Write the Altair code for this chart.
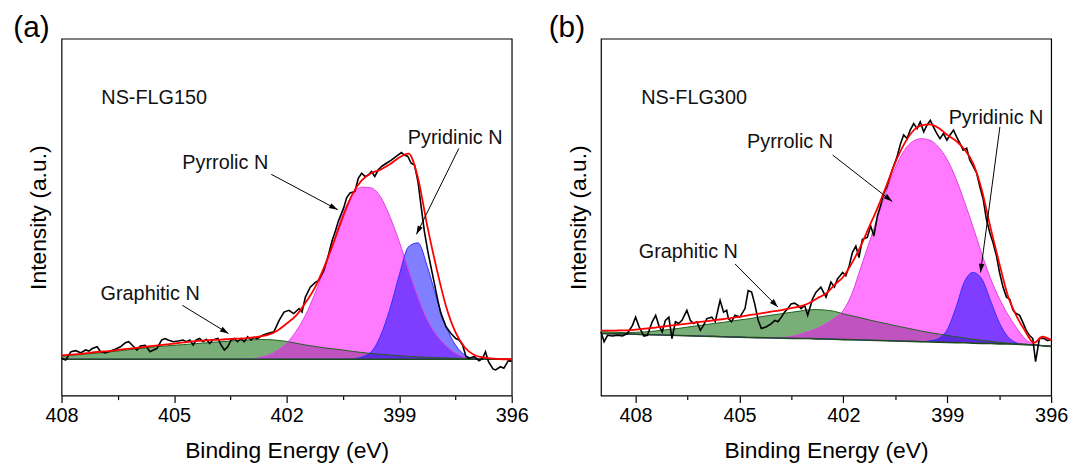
import math
import altair as alt
import pandas as pd

FONT = "Liberation Sans, Arial, Helvetica, sans-serif"
W, H = 454, 360

TICKS = [408, 406.5, 405, 403.5, 402, 400.5, 399, 397.5, 396]

# ---------------- panel (a) : NS-FLG150 ----------------
GRID_A = [408.0, 407.75, 407.5, 407.25, 407.0, 406.75, 406.5, 406.25, 406.0, 405.75,
          405.5, 405.25, 405.0, 404.75, 404.5, 404.25, 404.0, 403.75, 403.5, 403.25,
          403.0, 402.75, 402.5, 402.25, 402.0, 401.75, 401.5, 401.25, 401.0, 400.75,
          400.5, 400.25, 400.0, 399.75, 399.5, 399.25, 399.0, 398.75, 398.5, 398.25,
          398.0, 397.75, 397.5, 397.25, 397.0, 396.75, 396.5, 396.25, 396.0]
BASELINE_A = 10.2
GRAPHITIC_A = [0.8, 1.1, 1.3, 1.5, 1.8, 2.0, 2.3, 2.6, 2.9, 3.2,
               3.5, 3.7, 3.9, 4.1, 4.3, 4.5, 4.7, 4.9, 5.1, 5.3,
               5.4, 5.5, 5.5, 5.3, 5.0, 4.5, 4.0, 3.6, 3.2, 2.9,
               2.6, 2.2, 1.9, 1.6, 1.4, 1.2, 1.0, 0.8, 0.65, 0.55,
               0.45, 0.35, 0.3, 0.2, 0.15, 0.1, 0.05, 0.0, 0.0]
PYRROLIC_A = [0, 0, 0, 0, 0, 0, 0, 0, 0, 0,
              0, 0, 0, 0, 0, 0, 0, 0, 0, 0,
              0, 0.4, 1.1, 2.4, 4.5, 7.8, 12.3, 18.3, 25.3, 33.0,
              40.8, 46.0, 48.2, 48.0, 45.5, 40.0, 33.0, 25.0, 17.4, 11.0,
              6.7, 3.8, 1.7, 0.6, 0.2, 0, 0, 0, 0]
PYRIDINIC_A = [0, 0, 0, 0, 0, 0, 0, 0, 0, 0,
               0, 0, 0, 0, 0, 0, 0, 0, 0, 0,
               0, 0, 0, 0, 0, 0, 0, 0, 0, 0,
               0, 0.1, 0.6, 2.0, 6.5, 14.0, 23.5, 31.5, 32.6, 26.0,
               17.0, 9.2, 4.0, 1.2, 0.2, 0, 0, 0, 0]
ENVELOPE_A = [11.3, 11.5, 11.7, 12.0, 12.3, 12.5, 12.8, 13.1, 13.4, 13.7,
              14.0, 14.3, 14.6, 14.9, 15.2, 15.4, 15.6, 15.7, 15.9, 16.0,
              16.2, 16.5, 17.0, 18.2, 20.2, 22.4, 26.0, 30.2, 36.0, 42.8,
              50.1, 56.4, 60.3, 62.3, 63.3, 64.8, 66.7, 67.8, 61.0, 47.5,
              35.5, 25.0, 17.8, 13.5, 11.4, 10.7, 10.4, 10.2, 10.2]
RAW_A_EV = [408.00, 407.89, 407.75, 407.62, 407.49, 407.36, 407.27, 407.18, 407.05, 406.96,
            406.83, 406.70, 406.57, 406.43, 406.30, 406.21, 406.12, 405.99, 405.90, 405.77,
            405.64, 405.55, 405.46, 405.33, 405.24, 405.16, 405.02, 404.89, 404.76, 404.67,
            404.58, 404.49, 404.41, 404.32, 404.23, 404.14, 404.05, 403.97, 403.83, 403.75,
            403.66, 403.57, 403.48, 403.39, 403.31, 403.22, 403.13, 403.04, 402.95, 402.87,
            402.78, 402.64, 402.51, 402.34, 402.20, 402.07, 401.94, 401.81, 401.67, 401.59,
            401.50, 401.37, 401.23, 401.15, 401.01, 400.88, 400.79, 400.70, 400.62, 400.48,
            400.40, 400.31, 400.18, 400.09, 400.00, 399.91, 399.82, 399.74, 399.65, 399.56,
            399.47, 399.34, 399.21, 399.08, 398.94, 398.86, 398.77, 398.68, 398.59, 398.50,
            398.41, 398.33, 398.24, 398.15, 398.06, 397.97, 397.89, 397.75, 397.62, 397.49,
            397.40, 397.31, 397.22, 397.14, 397.00, 396.87, 396.78, 396.70, 396.62, 396.50,
            396.43, 396.30, 396.21, 396.08, 396.00]
RAW_A_I = [10.5, 10.0, 12.3, 12.6, 12.0, 12.8, 12.5, 13.2, 13.7, 12.3,
           12.0, 12.5, 13.0, 13.7, 14.8, 15.1, 14.2, 12.8, 13.9, 14.1,
           12.3, 12.8, 13.2, 15.6, 16.0, 15.6, 15.1, 15.3, 15.6, 15.1,
           15.6, 14.2, 15.6, 16.0, 15.1, 15.8, 14.6, 15.6, 16.0, 14.2,
           12.8, 13.7, 15.6, 16.0, 15.1, 16.0, 15.1, 16.5, 15.6, 16.3,
           16.0, 16.9, 17.4, 17.9, 21.1, 23.4, 23.9, 23.0, 24.4, 23.4,
           27.6, 30.4, 31.8, 32.2, 35.0, 39.6, 43.3, 46.1, 48.9, 52.6,
           55.4, 56.8, 57.2, 60.9, 62.3, 61.4, 61.8, 62.8, 61.4, 63.2,
           64.2, 65.1, 66.0, 67.0, 68.1, 67.4, 67.0, 65.1, 64.6, 60.0,
           52.6, 46.1, 40.6, 35.9, 31.3, 26.7, 23.0, 19.3, 17.4, 16.0,
           15.6, 14.2, 11.0, 10.5, 10.9, 9.8, 10.4, 12.3, 9.5, 7.5,
           7.2, 8.1, 7.7, 10.0, 9.6]
TEXT_A_LABEL = ["NS-FLG150", "Pyrrolic N", "Pyridinic N", "Graphitic N"]
TEXT_A_X = [406.94, 404.78, 398.77, 406.96]
TEXT_A_Y = [81.7, 63.6, 70.6, 26.7]
ARROW_A_X1 = [402.41, 397.41, 404.78]
ARROW_A_Y1 = [62.0, 69.25, 25.3]
ARROW_A_X2 = [400.64, 398.54, 403.55]
ARROW_A_Y2 = [52.1, 45.2, 17.4]

# ---------------- panel (b) : NS-FLG300 ----------------
GRID_B = [409.0, 408.75, 408.5, 408.25] + GRID_A
BASELINE_B = [17.4, 17.35, 17.3, 17.25, 17.2, 17.1, 17.05, 17.0, 16.9, 16.85,
              16.8, 16.7, 16.65, 16.6, 16.5, 16.45, 16.4, 16.3, 16.25, 16.2,
              16.15, 16.1, 16.05, 16.0, 16.0, 15.9, 15.85, 15.8, 15.7, 15.65,
              15.6, 15.5, 15.45, 15.4, 15.3, 15.25, 15.2, 15.1, 15.05, 15.0,
              14.9, 14.85, 14.8, 14.7, 14.65, 14.6, 14.5, 14.45, 14.4, 14.3,
              14.2, 14.0, 13.8]
GRAPHITIC_B = [0.5, 0.45, 0.4, 0.4, 0.55, 0.75, 1.0, 1.3, 1.65, 2.0,
               2.4, 2.85, 3.2, 3.6, 4.0, 4.4, 4.8, 5.2, 5.65, 6.1,
               6.5, 6.9, 7.3, 7.7, 8.05, 8.2, 8.1, 7.8, 7.2, 6.7,
               6.2, 5.7, 5.2, 4.75, 4.3, 3.85, 3.4, 3.0, 2.6, 2.25,
               1.95, 1.65, 1.35, 1.05, 0.85, 0.65, 0.45, 0.25, 0.15, 0.1,
               0.05, 0.0, 0.0]
PYRROLIC_B = [0, 0, 0, 0, 0, 0, 0, 0, 0, 0,
              0, 0, 0, 0, 0, 0, 0, 0, 0, 0,
              0.1, 0.2, 0.5, 1.2, 2.0, 3.0, 4.3, 6.0, 8.2, 13.0,
              20.2, 27.5, 34.8, 42.0, 48.5, 53.3, 56.0, 56.9, 56.5, 54.6,
              51.2, 46.0, 39.4, 32.4, 25.0, 18.2, 12.8, 8.3, 4.6, 1.6,
              0.2, 0, 0]
PYRIDINIC_B = [0, 0, 0, 0, 0, 0, 0, 0, 0, 0,
               0, 0, 0, 0, 0, 0, 0, 0, 0, 0,
               0, 0, 0, 0, 0, 0, 0, 0, 0, 0,
               0, 0, 0, 0, 0, 0, 0, 0, 0.3, 1.0,
               3.6, 9.8, 17.2, 19.8, 18.0, 12.0, 6.0, 2.05, 0.4, 0,
               0, 0, 0]
ENVELOPE_B = [18.2, 18.2, 18.25, 18.3, 18.5, 18.75, 19.0, 19.3, 19.6, 19.9,
              20.2, 20.5, 20.8, 21.1, 21.4, 21.75, 22.1, 22.5, 22.85, 23.25,
              23.65, 24.05, 24.5, 25.0, 25.9, 27.3, 28.6, 31.1, 33.3, 37.2,
              41.9, 47.4, 52.9, 59.0, 65.3, 70.4, 74.0, 75.7, 76.0, 75.0,
              73.0, 71.4, 68.9, 65.0, 57.5, 47.0, 37.2, 28.0, 22.3, 18.1,
              14.8, 16.5, 15.5]
RAW_B_EV = [409.00, 408.91, 408.81, 408.67, 408.52, 408.38, 408.24, 408.09, 408.00, 407.90,
            407.76, 407.66, 407.52, 407.42, 407.33, 407.23, 407.14, 407.04, 406.95, 406.85,
            406.76, 406.66, 406.52, 406.42, 406.33, 406.23, 406.13, 406.04, 405.94, 405.80,
            405.70, 405.56, 405.46, 405.37, 405.32, 405.23, 405.13, 404.99, 404.84, 404.75,
            404.65, 404.56, 404.46, 404.37, 404.22, 404.08, 403.98, 403.89, 403.79, 403.70,
            403.60, 403.51, 403.41, 403.31, 403.22, 403.12, 403.03, 402.89, 402.79, 402.65,
            402.50, 402.36, 402.26, 402.17, 402.02, 401.93, 401.83, 401.74, 401.64, 401.55,
            401.45, 401.31, 401.21, 401.12, 401.02, 400.93, 400.83, 400.74, 400.59, 400.45,
            400.35, 400.26, 400.16, 400.07, 399.97, 399.87, 399.78, 399.68, 399.59, 399.49,
            399.40, 399.30, 399.21, 399.11, 399.01, 398.92, 398.82, 398.73, 398.63, 398.54,
            398.44, 398.35, 398.25, 398.15, 398.06, 397.96, 397.87, 397.77, 397.68, 397.58,
            397.49, 397.39, 397.29, 397.20, 397.10, 397.01, 396.91, 396.82, 396.72, 396.63,
            396.53, 396.45, 396.34, 396.20, 396.10, 396.00]
RAW_B_I = [17.9, 15.1, 16.9, 16.7, 16.9, 16.7, 17.4, 19.7, 22.0, 19.3,
           16.7, 16.9, 20.7, 22.5, 19.7, 17.9, 21.1, 22.0, 16.0, 20.7,
           20.2, 21.1, 23.9, 21.1, 20.2, 20.7, 18.3, 19.7, 21.6, 22.0,
           20.7, 26.7, 23.4, 23.9, 21.6, 20.7, 22.5, 22.0, 24.4, 29.4,
           29.0, 25.7, 21.1, 18.8, 19.3, 20.2, 21.1, 20.7, 22.0, 23.4,
           24.4, 25.7, 25.9, 25.3, 24.4, 25.3, 22.5, 27.1, 29.0, 30.4,
           27.6, 31.8, 30.4, 32.7, 34.5, 33.6, 36.4, 40.1, 41.9, 38.7,
           43.8, 44.3, 47.5, 44.7, 50.3, 53.1, 56.7, 58.6, 63.2, 66.9,
           70.6, 73.0, 72.0, 74.4, 76.2, 74.8, 76.7, 73.9, 75.7, 77.1,
           75.3, 73.4, 72.0, 73.4, 71.6, 73.0, 74.4, 72.5, 70.6, 68.8,
           69.3, 66.0, 64.2, 62.3, 58.6, 54.9, 49.4, 45.6, 42.9, 39.2,
           34.5, 30.4, 27.6, 27.1, 23.9, 23.0, 22.5, 20.6, 18.3, 16.9,
           16.0, 9.5, 16.0, 16.0, 15.4, 15.8]
TEXT_B_LABEL = ["NS-FLG300", "Pyrrolic N", "Pyridinic N", "Graphitic N"]
TEXT_B_X = [407.84, 404.78, 398.96, 407.91]
TEXT_B_Y = [81.7, 69.4, 76.1, 38.6]
ARROW_B_X1 = [402.31, 397.48, 405.13]
ARROW_B_Y1 = [67.4, 75.3, 36.9]
ARROW_B_X2 = [400.59, 398.04, 403.89]
ARROW_B_Y2 = [54.4, 34.5, 24.8]

GREEN, MAGENTA, BLUE = "#0B6B0B", "#FF00FF", "#0000FF"
ARROW_PATH = "M0,0L-0.32,1L0.32,1Z"


def make_panel(tag, tag_dx, xmax, grid, base, gra, pyr, pyd, env, raw_ev, raw_i,
               t_lab, t_x, t_y, a_x1, a_y1, a_x2, a_y2):
    px_ev = W / (xmax - 396.0)
    px_u = H / 100.0
    xs = alt.Scale(domain=[396, xmax], reverse=True, nice=False, zero=False)
    ys = alt.Scale(domain=[0, 100], nice=False, zero=False)
    xaxis = alt.Axis(
        values=TICKS, title="Binding Energy (eV)",
        labelExpr="datum.value % 3 == 0 ? datum.label : ''",
        tickSize={"condition": {"test": "datum.value % 3 == 0", "value": 7}, "value": 4},
        labelFlush=False, labelOverlap=False, labelPadding=3, labelFontSize=20,
        labelColor="black", tickColor="black", tickWidth=1.2, domain=False, grid=False,
        titleFontSize=23, titleFontWeight="normal", titleColor="black", titlePadding=14)
    yaxis = alt.Axis(
        title="Intensity (a.u.)", labels=False, ticks=False, domain=False, grid=False,
        titleFontSize=23, titleFontWeight="normal", titleColor="black", titlePadding=11)

    def X(f):
        return alt.X(f, type="quantitative", scale=xs, axis=xaxis)

    def Y(f):
        return alt.Y(f, type="quantitative", scale=ys, axis=yaxis)

    comp = pd.DataFrame({
        "eV": grid, "base": base,
        "gra": [b + v for b, v in zip(base, gra)],
        "pyr": [b + v for b, v in zip(base, pyr)],
        "pyd": [b + v for b, v in zip(base, pyd)],
        "env": env,
    })
    raw = pd.DataFrame({"eV": raw_ev, "I": raw_i})
    ang = []
    for x1, y1, x2, y2 in zip(a_x1, a_y1, a_x2, a_y2):
        dx = (x1 - x2) * px_ev
        dy = (y1 - y2) * px_u
        ang.append(math.degrees(math.atan2(dx, -dy)) % 360)
    arr = pd.DataFrame({"x1": a_x1, "y1": a_y1, "x2": a_x2, "y2": a_y2, "angle": ang})
    txt = pd.DataFrame({"label": t_lab, "x": t_x, "y": t_y})

    c = alt.Chart(comp)
    g_area = c.mark_area(color=GREEN, opacity=0.55, interpolate="monotone").encode(
        x=X("eV"), y=Y("gra"), y2="base:Q")
    m_area = c.mark_area(color=MAGENTA, opacity=0.52, interpolate="monotone").encode(
        x=X("eV"), y=Y("pyr"), y2="base:Q")
    b_area = c.mark_area(color=BLUE, opacity=0.5, interpolate="monotone").encode(
        x=X("eV"), y=Y("pyd"), y2="base:Q")
    g_line = c.mark_line(color="#1F5F1F", strokeWidth=1, interpolate="monotone").encode(
        x=X("eV"), y=Y("gra"))
    m_line = c.mark_line(color="#E040E0", strokeWidth=1, interpolate="monotone").encode(
        x=X("eV"), y=Y("pyr"))
    b_line = c.mark_line(color="#3030FF", strokeWidth=1, interpolate="monotone").encode(
        x=X("eV"), y=Y("pyd"))
    bl_line = c.mark_line(color="#1E4A1E", strokeWidth=1.6).encode(x=X("eV"), y=Y("base"))
    raw_line = alt.Chart(raw).mark_line(color="black", strokeWidth=1.6).encode(
        x=X("eV"), y=Y("I"))
    env_line = c.mark_line(color="#FF0000", strokeWidth=1.8, interpolate="monotone").encode(
        x=X("eV"), y=Y("env"))
    rules = alt.Chart(arr).mark_rule(color="black", strokeWidth=1).encode(
        x=X("x1"), x2="x2:Q", y=Y("y1"), y2="y2:Q")
    heads = alt.Chart(arr).mark_point(shape=ARROW_PATH, filled=True, size=300,
                                      color="black", opacity=1, strokeWidth=0).encode(
        x=X("x2"), y=Y("y2"), angle=alt.Angle("angle:Q", scale=None))
    texts = alt.Chart(txt).mark_text(align="left", baseline="alphabetic", fontSize=20,
                                     font=FONT, color="#111111").encode(
        x=X("x"), y=Y("y"), text="label:N")
    tagc = alt.Chart(pd.DataFrame({"t": [tag]})).mark_text(
        align="left", baseline="top", fontSize=30, font=FONT, color="black").encode(
        x=alt.value(tag_dx), y=alt.value(-25.3), text="t:N")
    return alt.layer(g_area, m_area, b_area, g_line, m_line, b_line, bl_line,
                     raw_line, env_line, rules, heads, texts, tagc).properties(width=W, height=H)


pa = make_panel("(a)", -48.7, 408.0, GRID_A, [BASELINE_A] * len(GRID_A),
                GRAPHITIC_A, PYRROLIC_A, PYRIDINIC_A, ENVELOPE_A, RAW_A_EV, RAW_A_I,
                TEXT_A_LABEL, TEXT_A_X, TEXT_A_Y, ARROW_A_X1, ARROW_A_Y1, ARROW_A_X2, ARROW_A_Y2)
pb = make_panel("(b)", -52.7, 409.0, GRID_B, BASELINE_B,
                GRAPHITIC_B, PYRROLIC_B, PYRIDINIC_B, ENVELOPE_B, RAW_B_EV, RAW_B_I,
                TEXT_B_LABEL, TEXT_B_X, TEXT_B_Y, ARROW_B_X1, ARROW_B_Y1, ARROW_B_X2, ARROW_B_Y2)

chart = alt.hconcat(pa, pb, spacing=18).properties(
    padding={"left": 4, "top": 3, "right": 0, "bottom": 0}
).configure_view(stroke="black", strokeWidth=1.2).configure_axis(
    labelFont=FONT, titleFont=FONT)

chart.save("out.html", embed_options={"renderer": "svg", "actions": False})
